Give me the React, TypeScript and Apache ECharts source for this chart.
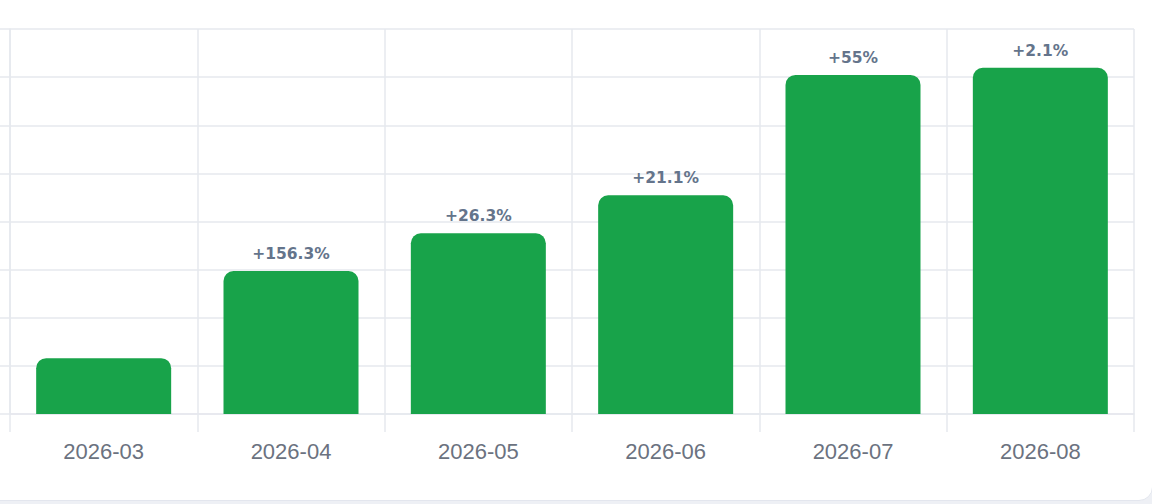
import React, { useEffect, useRef } from "react";
import * as echarts from "echarts";

const categories = ["2026-03", "2026-04", "2026-05", "2026-06", "2026-07", "2026-08"];
const values = [58, 148.6, 187.7, 227.3, 352.3, 359.7];
const growthLabels = ["", "+156.3%", "+26.3%", "+21.1%", "+55%", "+2.1%"];
const yMax = 400;
const yInterval = 50;

const GRID = "#e6e8ee";

export default function App() {
  const ref = useRef<HTMLDivElement>(null);

  useEffect(() => {
    document.body.style.margin = "0";
    if (!ref.current) return;
    const chart = echarts.init(ref.current, undefined, { renderer: "svg" });
    chart.setOption({
      animation: false,
      grid: { left: 10, right: 18, top: 29, bottom: 90, containLabel: false },
      xAxis: {
        type: "category",
        data: categories,
        boundaryGap: true,
        axisLine: { show: true, lineStyle: { color: GRID, width: 1.5 } },
        axisTick: { show: true, length: 18, lineStyle: { color: GRID, width: 1.5 } },
        splitLine: { show: true, lineStyle: { color: GRID, width: 1.5 } },
        axisLabel: {
          color: "#6b7280",
          fontSize: 22,
          fontFamily: "Liberation Sans, Arial, sans-serif",
          margin: 26,
        },
      },
      yAxis: {
        type: "value",
        min: 0,
        max: yMax,
        interval: yInterval,
        axisLine: { show: true, lineStyle: { color: GRID, width: 1.5 } },
        axisTick: { show: true, length: 10, lineStyle: { color: GRID, width: 1.5 } },
        splitLine: { show: true, lineStyle: { color: GRID, width: 1.5 } },
        axisLabel: { show: false },
      },
      series: [
        {
          type: "bar",
          data: values,
          barWidth: 135,
          itemStyle: { color: "#18a34a", borderRadius: [10, 10, 0, 0] },
          label: {
            show: true,
            position: "top",
            distance: 9,
            color: "#64748b",
            fontSize: 15.5,
            fontWeight: "bold",
            fontFamily: "DejaVu Sans, sans-serif",
            formatter: (p: any) => growthLabels[p.dataIndex],
          },
        },
      ],
    });
    return () => chart.dispose();
  }, []);

  return (
    <div
      style={{
        position: "fixed",
        left: 0,
        top: 0,
        width: 1152,
        height: 504,
        overflow: "hidden",
        background: "#eef0f5",
      }}
    >
      <div
        style={{
          position: "absolute",
          left: -20,
          top: -20,
          width: 1173,
          height: 521,
          boxSizing: "border-box",
          background: "#ffffff",
          border: "1.5px solid #e3e6ee",
          borderRadius: 14,
        }}
      />
      <div ref={ref} style={{ position: "absolute", left: 0, top: 0, width: 1152, height: 504 }} />
    </div>
  );
}
